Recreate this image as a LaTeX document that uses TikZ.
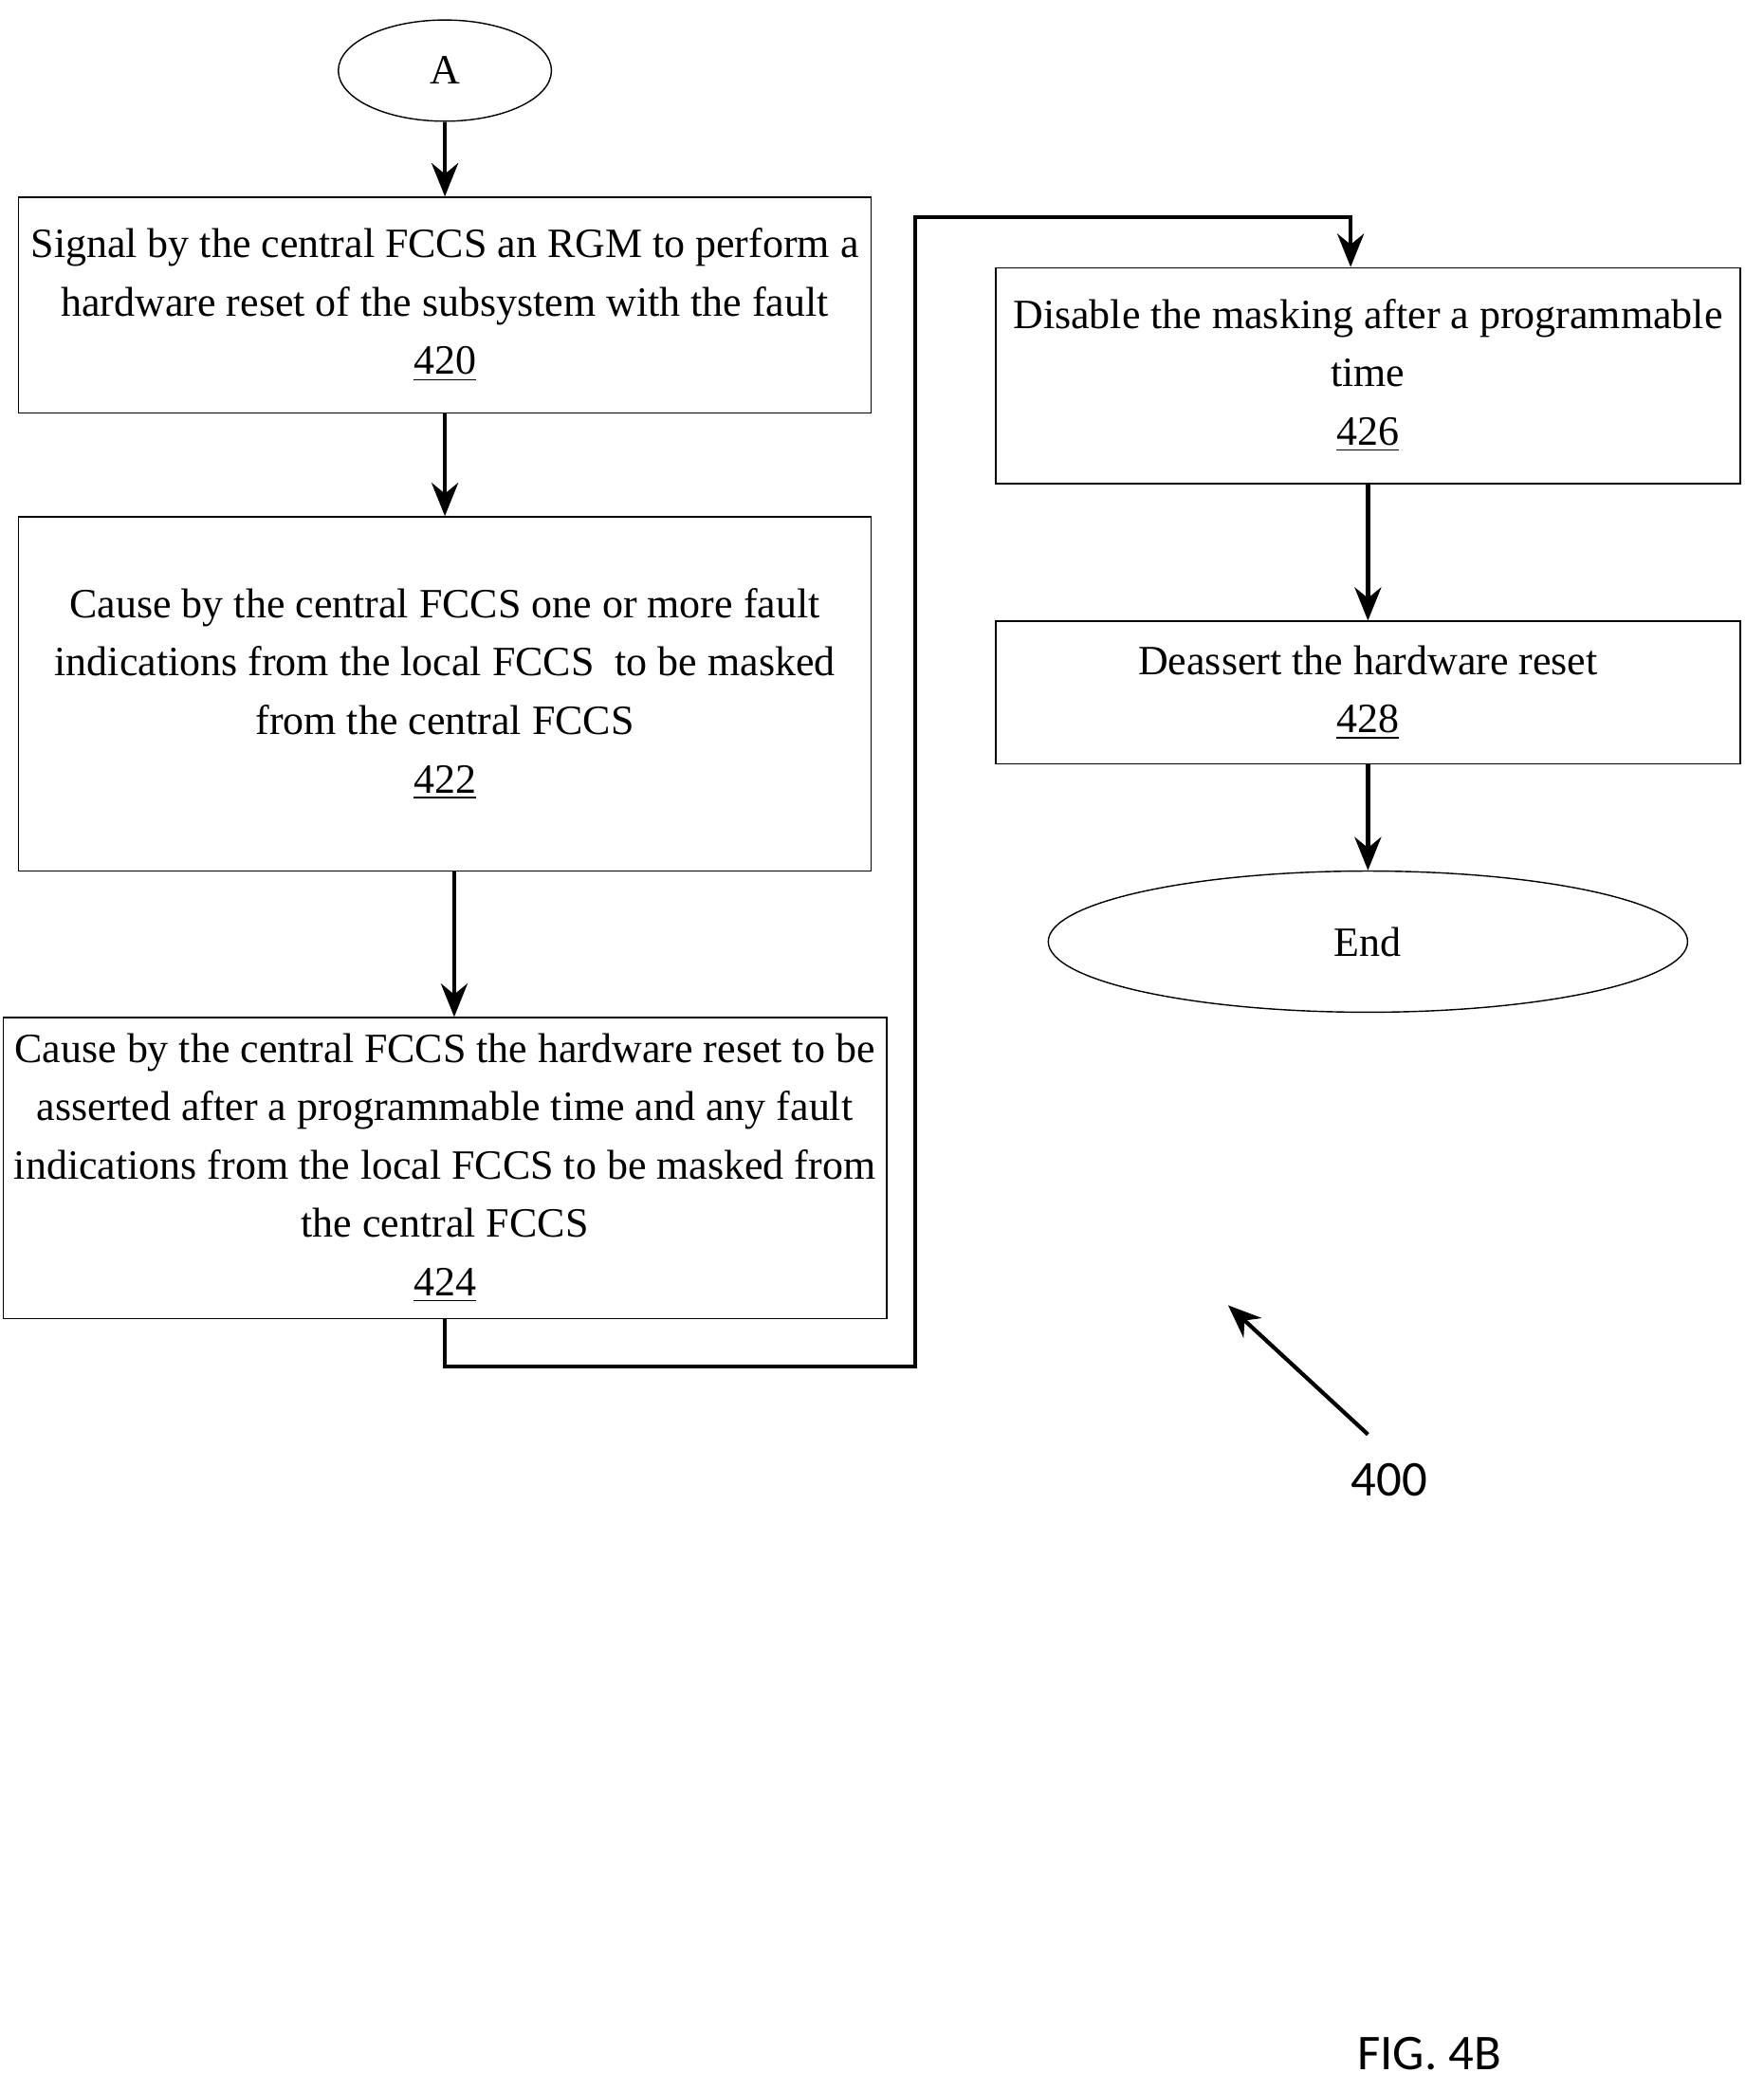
\documentclass[tikz,border=0pt]{standalone}
\usepackage{fontspec}
\setmainfont{Liberation Serif}
\newfontfamily\figfont{Carlito}
\usetikzlibrary{arrows.meta,shapes.geometric}
\begin{document}
\begin{tikzpicture}[x=0.01404cm,y=-0.01404cm,
  stepbox/.style={draw,thin,minimum width=640*0.01404cm,align=center,font=\fontsize{12.5}{17.5}\selectfont},
  term/.style={draw,thin,ellipse,font=\fontsize{12.5}{15}\selectfont},
  flow/.style={-{Stealth[length=10pt,width=8pt]},line width=1.2pt}]
\useasboundingbox (0,0) rectangle (1324,1570);
% left column
\node[term,minimum width=160*0.01404cm,minimum height=76*0.01404cm] (A) at (334,53) {A};
\node[stepbox,minimum height=162*0.01404cm] (s420) at (334,229) {Signal by the central FCCS an RGM to perform a\\hardware reset of the subsystem with the fault\\\underline{420}};
\node[stepbox,minimum height=266*0.01404cm] (s422) at (334,521) {Cause by the central FCCS one or more fault\\indications from the local FCCS\ \ to be masked\\from the central FCCS\\\underline{422}};
\node[stepbox,minimum height=226*0.01404cm] (s424) at (334,877) {Cause by the central FCCS the hardware reset to be\\asserted after a programmable time and any fault\\indications from the local FCCS to be masked from\\the central FCCS\\\underline{424}};
% right column
\node[stepbox,minimum width=559*0.01404cm,minimum height=162*0.01404cm] (s426) at (1027,282) {Disable the masking after a programmable\\time\\\underline{426}};
\node[stepbox,minimum width=559*0.01404cm,minimum height=107*0.01404cm] (s428) at (1027,520) {Deassert the hardware reset\\\underline{428}};
\node[term,minimum width=480*0.01404cm,minimum height=106*0.01404cm] (end) at (1027,707) {End};
\draw[flow] (A) -- (s420);
\draw[flow] (s420) -- (s422);
\draw[flow] (s422.south -| 341,0) -- (s424.north -| 341,0);
\draw[flow] (s424.south) |- (687,1026) |- (1014,163) -- (s426.north -| 1014,0);
\draw[flow] (s426) -- (s428);
\draw[flow] (s428) -- (end);
% reference numeral
\coordinate (tail) at (1027,1077);
\coordinate (tip) at (922,980);
\draw[flow] (tail) -- (tip);
\node[font=\figfont\fontsize{15}{18}\selectfont] (ref) at (1043,1111) {400};
\node[font=\figfont\fontsize{15}{18}\selectfont] (fig) at (1073,1542) {FIG. 4B};
\end{tikzpicture}
\end{document}
